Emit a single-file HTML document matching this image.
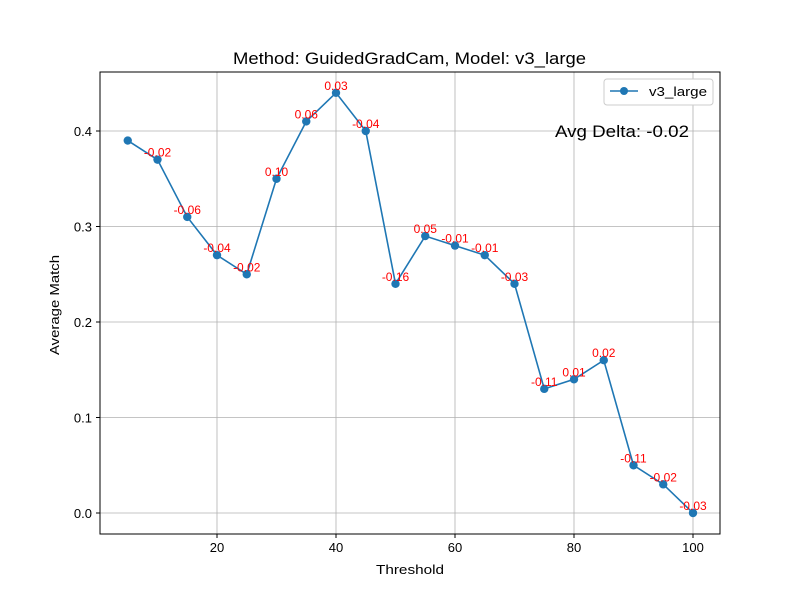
<!DOCTYPE html>
<html><head><meta charset="utf-8"><style>
body{margin:0;background:#fff}
svg{font-family:"Liberation Sans","DejaVu Sans",sans-serif}
</style></head><body>
<svg id="chart" width="800" height="600" viewBox="0 0 800 600">
<rect x="0" y="0" width="800" height="600" fill="#fff"/>
<text x="233" y="64" font-size="16.5" textLength="353" lengthAdjust="spacingAndGlyphs">Method: GuidedGradCam, Model: v3_large</text>
<g id="grid"></g>
<g id="axes"></g>
<g id="series"></g>
<g id="labels"></g>
<rect x="100" y="72" width="620" height="462" fill="none" stroke="#000" stroke-width="1"/>
<text x="376" y="574" font-size="13" textLength="68" lengthAdjust="spacingAndGlyphs">Threshold</text>
<text transform="translate(59,355) rotate(-90)" font-size="13" textLength="100" lengthAdjust="spacingAndGlyphs">Average Match</text>
<text x="555" y="137" font-size="17" textLength="134" lengthAdjust="spacingAndGlyphs">Avg Delta: -0.02</text>
<g>
<rect x="604" y="79" width="109" height="26" rx="3" fill="#fff" stroke="#ccc"/>
<line x1="610" y1="91" x2="638" y2="91" stroke="#1f77b4" stroke-width="1.5"/>
<circle cx="624" cy="91" r="4" fill="#1f77b4"/>
<text x="649" y="96" font-size="13" textLength="58" lengthAdjust="spacingAndGlyphs">v3_large</text>
</g>
</svg>
<script>
const thresholds=[5,10,15,20,25,30,35,40,45,50,55,60,65,70,75,80,85,90,95,100];
const matches=[0.39,0.37,0.31,0.27,0.25,0.35,0.41,0.44,0.40,0.24,0.29,0.28,0.27,0.24,0.13,0.14,0.16,0.05,0.03,0.00];
const deltas=["-0.02","-0.06","-0.04","-0.02","0.10","0.06","0.03","-0.04","-0.16","0.05","-0.01","-0.01","-0.03","-0.11","0.01","0.02","-0.11","-0.02","-0.03"];
const xTicks=[20,40,60,80,100];
const yTicks=[0.0,0.1,0.2,0.3,0.4];
const NS="http://www.w3.org/2000/svg";
const X=v=>98+v*5.95;
const Y=v=>513-v*955;
function mk(t,a,p){const e=document.createElementNS(NS,t);for(const k in a)e.setAttribute(k,a[k]);p.appendChild(e);return e;}
const grid=document.getElementById('grid'),axes=document.getElementById('axes'),ser=document.getElementById('series'),lab=document.getElementById('labels');
xTicks.forEach(t=>{
 const g=mk('line',{x1:X(t),x2:X(t),y1:72,y2:534,stroke:'#b0b0b0','stroke-width':0.8},grid);
 
 
 const k=mk('line',{x1:X(t),x2:X(t),y1:534,y2:538,stroke:'#000'},axes);
 
 
 const l=mk('text',{x:X(t),y:552,'text-anchor':'middle','font-size':13},axes);
 
 
 l.textContent=t;
});
yTicks.forEach(t=>{
 const g=mk('line',{x1:100,x2:720,y1:Y(t),y2:Y(t),stroke:'#b0b0b0','stroke-width':0.8},grid);
 
 
 const k=mk('line',{x1:96,x2:100,y1:Y(t),y2:Y(t),stroke:'#000'},axes);
 
 
 const l=mk('text',{x:92,y:Y(t)+5,'text-anchor':'end','font-size':13},axes);
 
 
 l.textContent=t.toFixed(1);
});
const pl=mk('polyline',{points:thresholds.map((t,i)=>X(t)+','+Y(matches[i])).join(' '),fill:'none',stroke:'#1f77b4','stroke-width':1.6},ser);


thresholds.forEach((t,i)=>{
 const c=mk('circle',{cx:X(t),cy:Y(matches[i]),r:4.2,fill:'#1f77b4'},ser);
 
 
 if(i>0){
  const l=mk('text',{x:X(t),y:Y(matches[i])-3,'text-anchor':'middle','font-size':12,fill:'red'},lab);
  
  
  l.textContent=deltas[i-1];
 }
});
</script>
</body></html>
